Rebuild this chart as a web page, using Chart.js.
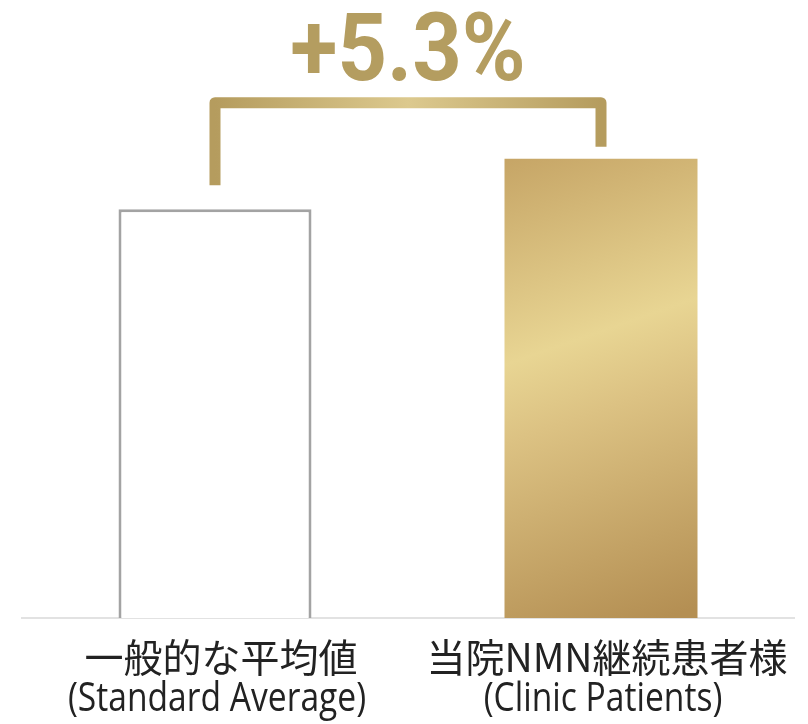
<!DOCTYPE html>
<html>
<head>
<meta charset="utf-8">
<script src="https://cdn.jsdelivr.net/npm/chart.js@4.4.1/dist/chart.umd.min.js"></script>
<style>
  html, body { margin: 0; padding: 0; background: #fff; }
  #wrap { width: 808px; height: 724px; }
</style>
</head>
<body>
<div id="wrap"><canvas id="chart" width="808" height="724"></canvas></div>
<script>
// データ
const labelsJa = ['一般的な平均値', '当院NMN継続患者様'];
const labelsEn = ['(Standard Average)', '(Clinic Patients)'];
const values = [100, 105.3];

// 棒の塗り（左は白、右は金色のグラデーション）
function barFill(ctx) {
  if (ctx.dataIndex === 0) return '#ffffff';
  const chart = ctx.chart;
  const xs = chart.scales.x, ys = chart.scales.y;
  if (!chart.chartArea || !xs || !ys) return '#c9a96a';
  const cx = xs.getPixelForValue(1);
  const left = cx - 96;
  const top = ys.getPixelForValue(values[1]);
  const bottom = chart.chartArea.bottom;
  const g = chart.ctx.createLinearGradient(left, top, left + 160, bottom);
  g.addColorStop(0, '#c6a566');
  g.addColorStop(0.4, '#e8d593');
  g.addColorStop(0.55, '#dcc283');
  g.addColorStop(1, '#b48f53');
  return g;
}

// 比較ブラケットと差分ラベル
const bracketPlugin = {
  id: 'bracket',
  afterDatasetsDraw(chart) {
    const ctx = chart.ctx;
    const bars = chart.getDatasetMeta(0).data;
    const y = chart.scales.y;
    const x1 = bars[0].x, x2 = bars[1].x;
    const top = y.getPixelForValue(111.2);
    const b1 = bars[0].y - 24;
    const b2 = bars[1].y - 12;

    ctx.save();
    const g = ctx.createLinearGradient(x1, 0, x2, 0);
    g.addColorStop(0, '#b59c5e');
    g.addColorStop(0.5, '#dcc98e');
    g.addColorStop(1, '#b59c5e');
    ctx.strokeStyle = g;
    ctx.lineWidth = 11;
    ctx.lineJoin = 'round';
    ctx.beginPath();
    ctx.moveTo(x1, b1);
    ctx.lineTo(x1, top);
    ctx.lineTo(x2, top);
    ctx.lineTo(x2, b2);
    ctx.stroke();

    const diff = ((values[1] - values[0]) / values[0] * 100).toFixed(1);
    ctx.fillStyle = '#b49d60';
    ctx.font = 'bold 94px Roboto, sans-serif';
    ctx.textAlign = 'center';
    ctx.textBaseline = 'alphabetic';
    ctx.translate((x1 + x2) / 2, 80);
    ctx.scale(0.92, 1);
    ctx.fillText('+' + diff + '%', 0, 0);
    ctx.restore();
  }
};

// カテゴリラベル（2行）
const labelPlugin = {
  id: 'catLabels',
  afterDraw(chart) {
    const ctx = chart.ctx;
    const xs = chart.scales.x;
    const base = chart.chartArea.bottom;
    ctx.save();
    ctx.fillStyle = '#222';
    ctx.textAlign = 'center';
    ctx.textBaseline = 'middle';
    labelsJa.forEach((t, i) => {
      const cx = xs.getPixelForTick(i);
      ctx.font = "39px 'Noto Sans CJK JP', sans-serif";
      ctx.fillText(t, cx + 6, base + 39);
      ctx.save();
      ctx.translate(cx + 2, base + 82);
      ctx.scale(0.84, 1);
      ctx.font = "40px 'Open Sans', sans-serif";
      ctx.fillText(labelsEn[i], 0, 0);
      ctx.restore();
    });
    ctx.restore();
  }
};

new Chart(document.getElementById('chart'), {
  type: 'bar',
  data: {
    labels: labelsJa,
    datasets: [{
      data: values,
      backgroundColor: barFill,
      borderColor: ['#a3a3a3', 'rgba(0,0,0,0)'],
      borderWidth: [3, 0],
      borderSkipped: false,
      categoryPercentage: 1,
      barPercentage: 0.5
    }]
  },
  options: {
    responsive: false,
    animation: false,
    layout: { padding: { left: 22, right: 14, top: 0, bottom: 0 } },
    plugins: { legend: { display: false }, tooltip: { enabled: false } },
    scales: {
      x: {
        grid: { display: false },
        border: { display: true, color: '#e2e2e2', width: 2 },
        ticks: { display: false },
        afterFit(scale) { scale.height = 106; }
      },
      y: {
        display: false,
        min: 57,
        max: 122
      }
    }
  },
  plugins: [bracketPlugin, labelPlugin]
});
</script>
</body>
</html>
